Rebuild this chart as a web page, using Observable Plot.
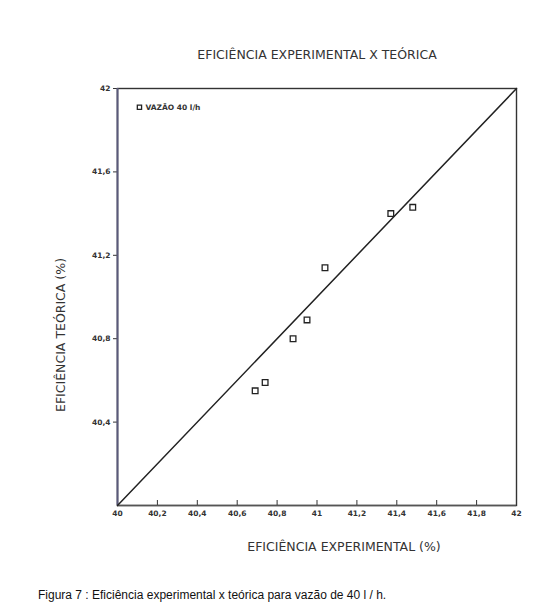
<!DOCTYPE html>
<html>
<head>
<meta charset="utf-8">
<script src="https://cdn.jsdelivr.net/npm/d3@7"></script>
<script src="https://cdn.jsdelivr.net/npm/@observablehq/plot@0.6"></script>
<style>
  body { margin: 0; background: #fff; }
  #chart svg { display: block; }
  #caption { font-family: "Liberation Sans", Arial, sans-serif; font-size: 12px; color: #111; margin: 13px 0 0 38px; }
</style>
</head>
<body>
<div id="chart"></div>
<div id="caption">Figura 7 : Eficiência experimental x teórica para vazão de 40 l / h.</div>
<script>
// Data
const experimental = [40.69, 40.74, 40.88, 40.95, 41.04, 41.37, 41.48];
const teorica      = [40.55, 40.59, 40.80, 40.89, 41.14, 41.40, 41.43];
const xTicks = [40, 40.2, 40.4, 40.6, 40.8, 41, 41.2, 41.4, 41.6, 41.8, 42];
const yTicks = [40.4, 40.8, 41.2, 41.6, 42];
const identityLine = [40, 42];

const points = experimental.map((x, i) => ({x, y: teorica[i]}));
const fmt = d => String(d).replace(".", ",");
const ink = "#333";

const chart = Plot.plot({
  width: 539,
  height: 575,
  marginLeft: 117,
  marginRight: 23,
  marginTop: 88,
  marginBottom: 70,
  style: {fontFamily: "DejaVu Sans", color: ink, background: "#fff"},
  x: {domain: [40, 42], ticks: xTicks, tickFormat: fmt, label: null},
  y: {domain: [40, 42], ticks: yTicks, tickFormat: fmt, label: null},
  marks: [
    Plot.frame({stroke: ink, strokeWidth: 1.4}),
    Plot.axisX({ticks: xTicks, tickFormat: fmt, tickSize: -5, tickPadding: 10, fontSize: 7.5, fontWeight: "bold", stroke: ink}),
    Plot.axisY({ticks: yTicks, tickFormat: fmt, tickSize: 4, tickPadding: 3, fontSize: 7.5, fontWeight: "bold", stroke: ink}),
    Plot.ruleY([40], {stroke: "#555", strokeWidth: 1.5}),
    Plot.ruleX([40], {stroke: "#5a5a7a", strokeWidth: 2}),
    Plot.line(identityLine.map(v => ({x: v, y: v})), {x: "x", y: "y", stroke: "#222", strokeWidth: 1.5}),
    Plot.dot(points, {x: "x", y: "y", symbol: "square", r: 3.2, stroke: "#222", strokeWidth: 1.3, fill: "#fff"}),
    Plot.dot([{x: 40.11, y: 41.91}], {x: "x", y: "y", symbol: "square", r: 2.4, stroke: "#222", strokeWidth: 1.3, fill: "#fff"}),
    Plot.text([{x: 40.14, y: 41.91, t: "VAZÃO 40 l/h"}], {x: "x", y: "y", text: "t", textAnchor: "start", fontSize: 7.5, fontWeight: "bold", fill: ink}),
    Plot.text(["EFICIÊNCIA EXPERIMENTAL X TEÓRICA"], {frameAnchor: "top", dy: -38, dx: 0, fontSize: 12.5, fill: ink}),
    Plot.text(["EFICIÊNCIA EXPERIMENTAL (%)"], {frameAnchor: "bottom", dy: 45, dx: 27, fontSize: 12.5, fill: ink}),
    Plot.text(["EFICIÊNCIA TEÓRICA (%)"], {frameAnchor: "left", textAnchor: "middle", dx: -57, dy: 38, rotate: -90, fontSize: 12.5, fill: ink})
  ]
});
document.getElementById("chart").appendChild(chart);
</script>
</body>
</html>
